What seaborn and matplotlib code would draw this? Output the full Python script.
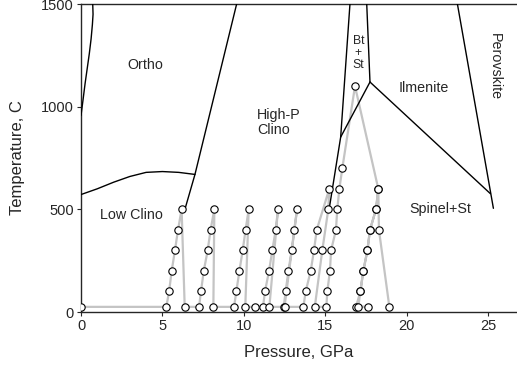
import numpy as np
import pandas as pd
import matplotlib
matplotlib.use("Agg")
import matplotlib.pyplot as plt
import seaborn as sns

# ---- experimental path (pressure GPa, temperature C), in measurement order ----
path_p = [0, 5.24, 5.41, 5.57, 5.77, 5.96, 6.18, 6.37,
          7.25, 7.37, 7.54, 7.78, 7.96, 8.19, 8.13,
          9.40, 9.54, 9.73, 9.93, 10.11, 10.30, 10.09,
          10.68, 11.18, 11.30, 11.55, 11.75, 11.96, 12.10, 11.57,
          12.45, 12.57, 12.74, 12.94, 13.10, 13.27, 12.50,
          13.66, 13.80, 14.11, 14.31, 14.48, 15.25, 15.19, 14.82, 14.36,
          15.07, 15.13, 15.29, 15.36, 15.66, 15.74, 15.87, 16.05, 16.83,
          18.26, 18.12, 17.75, 17.59, 17.34, 17.16, 16.89, 17.65,
          17.03, 17.16, 17.34, 17.59, 17.75, 18.12, 18.26, 18.30, 18.94]
path_t = [25, 25, 100, 200, 300, 400, 500, 25,
          25, 100, 200, 300, 400, 500, 25,
          25, 100, 200, 300, 400, 500, 25,
          25, 25, 100, 200, 300, 400, 500, 25,
          25, 100, 200, 300, 400, 500, 25,
          25, 100, 200, 300, 400, 600, 500, 300, 25,
          25, 100, 200, 300, 400, 500, 600, 700, 1100,
          600, 500, 400, 300, 200, 100, 25, 25,
          25, 100, 200, 300, 400, 500, 600, 400, 25]

# ---- phase boundaries ----
b_ortho_low_p = [0.0, 0.12, 0.25, 0.38, 0.51, 0.62, 0.70, 0.74, 0.72]
b_ortho_low_t = [957, 1030, 1112, 1185, 1258, 1330, 1400, 1450, 1500]
b_lowclino_p = [0.0, 1.0, 2.0, 3.0, 4.0, 5.0, 6.0, 7.0]
b_lowclino_t = [572, 600, 632, 660, 680, 684, 680, 670]
b_ortho_hp_p = [6.40, 7.00, 9.56]
b_ortho_hp_t = [505, 670, 1500]
b_btst_left_p = [16.52, 15.95, 15.27]
b_btst_left_t = [1500, 852, 515]
b_btst_right_p = [17.55, 17.75]
b_btst_right_t = [1500, 1120]
b_junction_sw_p = [17.75, 15.95]
b_junction_sw_t = [1120, 852]
b_junction_se_p = [17.75, 25.15]
b_junction_se_t = [1120, 576]
b_perov_p = [23.12, 25.33]
b_perov_t = [1500, 505]

sns.set_style("ticks")
plt.rcParams["font.family"] = ["Liberation Sans", "DejaVu Sans"]

fig = plt.figure(figsize=(5.17, 3.77), dpi=100)
ax = fig.add_axes([81/517, 65/377, 1 - 81/517, 308/377])

bounds = [
    (b_ortho_low_p, b_ortho_low_t), (b_lowclino_p, b_lowclino_t),
    (b_ortho_hp_p, b_ortho_hp_t), (b_btst_left_p, b_btst_left_t),
    (b_btst_right_p, b_btst_right_t), (b_junction_sw_p, b_junction_sw_t),
    (b_junction_se_p, b_junction_se_t), (b_perov_p, b_perov_t),
]
rows = []
for i, (ps, ts) in enumerate(bounds):
    for j, (p, t) in enumerate(zip(ps, ts)):
        rows.append({"seg": i, "order": j, "P": p, "T": t})
bdf = pd.DataFrame(rows)

path = pd.DataFrame({"P": path_p, "T": path_t})

sns.lineplot(data=path, x="P", y="T", sort=False, estimator=None,
             color="#c4c4c4", lw=1.6, ax=ax, zorder=2)
sns.lineplot(data=bdf, x="P", y="T", units="seg", sort=False, estimator=None,
             color="black", lw=1.0, ax=ax, zorder=3)
sns.scatterplot(data=path, x="P", y="T", marker="o", s=28, facecolor="white",
                edgecolor="black", linewidth=0.8, ax=ax, zorder=4)

ax.set_xlim(0, 26.78)
ax.set_ylim(0, 1500)
ax.set_xticks([0, 5, 10, 15, 20, 25])
ax.set_yticks([0, 500, 1000, 1500])
ax.tick_params(labelsize=10.5, length=3, width=0.8, direction="out", pad=2)
ax.spines["right"].set_visible(False)
for s in ["left", "bottom", "top"]:
    ax.spines[s].set_linewidth(1.0)
ax.set_xlabel("Pressure, GPa", fontsize=12, labelpad=9)
ax.set_ylabel("Temperature, C", fontsize=12, labelpad=12)

fs = 10.3
ax.text(3.93, 1202, "Ortho", fontsize=fs, ha="center", va="center")
ax.text(10.8, 922, "High-P\nClino", fontsize=fs, ha="left", va="center", linespacing=1.1)
ax.text(17.03, 1260, "Bt\n+\nSt", fontsize=8.8, ha="center", va="center", linespacing=1.0)
ax.text(21.03, 1092, "Ilmenite", fontsize=fs, ha="center", va="center")
ax.text(25.45, 1193, "Perovskite", fontsize=fs, ha="center", va="center", rotation=270)
ax.text(3.11, 471, "Low Clino", fontsize=fs, ha="center", va="center")
ax.text(22.05, 500, "Spinel+St", fontsize=fs, ha="center", va="center")

fig.savefig("out.png", dpi=100)
